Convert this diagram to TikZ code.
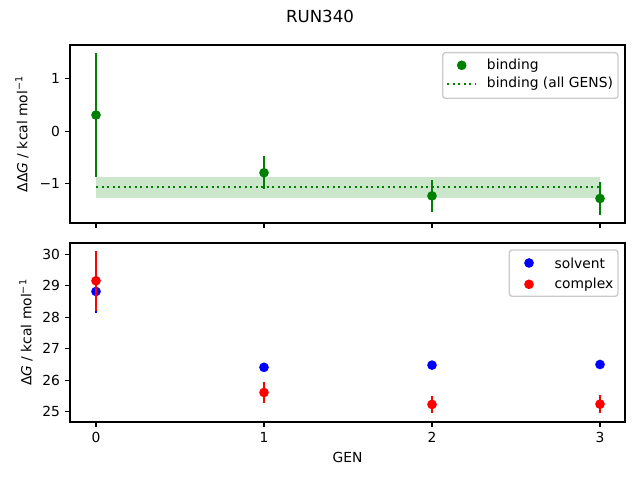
\documentclass[tikz,border=0pt]{standalone}
\usepackage{fontspec}
\setmainfont{DejaVu Sans}
\definecolor{verde}{HTML}{008000}
\definecolor{banda}{HTML}{CCE6CC}
\definecolor{azul}{HTML}{0000FF}
\definecolor{rojo}{HTML}{FF0000}
\definecolor{marco}{HTML}{CCCCCC}
\begin{document}
\begin{tikzpicture}[x=0.01in,y=0.01in,
        eje/.style={line width=0.8pt},
        barra/.style={line width=1.5pt},
        punto/.style={circle,inner sep=0pt,minimum size=7pt},
        etiq/.style={inner sep=0pt},
        caja/.style={draw=marco,fill=white,fill opacity=0.8,rounded corners=2pt,line width=1pt}]
        \useasboundingbox (0,0) rectangle (640,480);
        \node[etiq,font=\fontsize{12}{14}\selectfont] (titulo) at (320,464) {RUN340};
        % Dibuja el panel superior
        \begin{scope}[shift={(96,348.7)},xscale=168,yscale=52.5]
            \fill[banda] (0,-1.264) rectangle (3,-0.88);
            \draw[verde,line width=1.5pt,dash pattern=on 1.5pt off 2.475pt] (0,-1.055) -- (3,-1.055);
            \foreach \g/\v/\e in {0/0.31/1.18,1/-0.79/0.31,2/-1.23/0.30,3/-1.28/0.31}{
                \draw[barra,verde] ({\g},{\v-\e}) -- ({\g},{\v+\e});
                \node[punto,fill=verde] (b\g) at ({\g},{\v}) {};
            }
        \end{scope}
        \draw[eje] (70,257) rectangle (625,435);
        \foreach \g in {0,...,3}
            \draw[eje] ({96+168*\g},257) -- ++(0,-4.86);
        \foreach \v/\t in {1/1,0/0,-1/−1}{
            \draw[eje] (70,{348.7+52.5*\v}) -- ++(-4.86,0);
            \node[etiq,anchor=east] (yt\v) at (60.3,{348.7+52.5*\v}) {\t};
        }
        \node[etiq,rotate=90] (ysup) at (22,346) {ΔΔ\textit{G} / kcal mol\textsuperscript{−1}};
        % Leyenda superior
        \draw[caja] (442.7,381.7) rectangle (618,427.3);
        \node[punto,fill=verde] (lb) at (461.7,414.7) {};
        \node[etiq,anchor=west] (lbt) at (486.7,414.7) {binding};
        \coordinate (la) at (447,396);
        \coordinate (lz) at (475,396);
        \draw[verde,line width=1.5pt,dash pattern=on 1.5pt off 2.475pt] (la) -- (lz);
        \node[etiq,anchor=west] (lat) at (486.7,396) {binding (all GENS)};
        % Dibuja el panel inferior
        \begin{scope}[shift={(96,-718.45)},xscale=168,yscale=31.47]
            \foreach \g/\v/\e in {0/28.82/0.68,1/26.41/0,2/26.48/0,3/26.50/0}{
                \draw[barra,azul] ({\g},{\v-\e}) -- ({\g},{\v+\e});
                \node[punto,fill=azul] (s\g) at ({\g},{\v}) {};
            }
            \foreach \g/\v/\e in {0/29.16/0.95,1/25.61/0.32,2/25.23/0.28,3/25.24/0.29}{
                \draw[barra,rojo] ({\g},{\v-\e}) -- ({\g},{\v+\e});
                \node[punto,fill=rojo] (c\g) at ({\g},{\v}) {};
            }
        \end{scope}
        \draw[eje] (70,58) rectangle (625,237);
        \foreach \g in {0,...,3}{
            \draw[eje] ({96+168*\g},58) -- ++(0,-4.86);
            \node[etiq,anchor=north] (xt\g) at ({96+168*\g},48.3) {\g};
        }
        \foreach \v in {25,...,30}{
            \draw[eje] (70,{68.3+31.47*(\v-25)}) -- ++(-4.86,0);
            \node[etiq,anchor=east] (yi\v) at (60.3,{68.3+31.47*(\v-25)}) {\v};
        }
        \node[etiq,rotate=90] (yinf) at (26,147.5) {Δ\textit{G} / kcal mol\textsuperscript{−1}};
        \node[etiq] (gen) at (347.5,23) {GEN};
        % Leyenda inferior
        \draw[caja] (509.3,183.7) rectangle (618,230);
        \node[punto,fill=azul] (ls) at (529,217) {};
        \node[etiq,anchor=west] (lst) at (554.3,217) {solvent};
        \node[punto,fill=rojo] (lc) at (529,195.7) {};
        \node[etiq,anchor=west] (lct) at (554.3,195.7) {complex};
    \end{tikzpicture}
\end{document}
